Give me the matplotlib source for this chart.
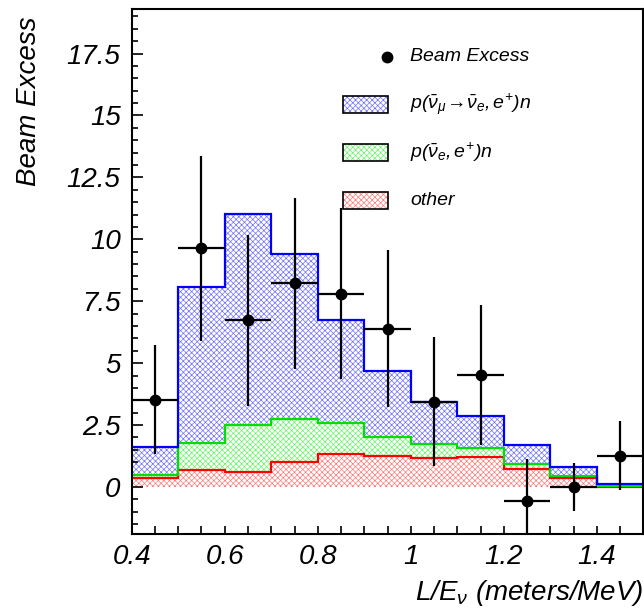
import numpy as np
import matplotlib
matplotlib.use("Agg")
import matplotlib.pyplot as plt
from matplotlib.patches import Rectangle
from matplotlib.lines import Line2D
from matplotlib.ticker import MultipleLocator, FuncFormatter

plt.rcParams['font.family'] = ['Liberation Sans', 'DejaVu Sans']
plt.rcParams['font.style'] = 'italic'
plt.rcParams['mathtext.fontset'] = 'custom'
plt.rcParams['mathtext.it'] = 'Liberation Sans:italic'
plt.rcParams['mathtext.rm'] = 'Liberation Sans'
plt.rcParams['hatch.linewidth'] = 0.5

# bin edges in L/E (meters/MeV)
edges = np.round(np.arange(0.4, 1.51, 0.1), 2)
centers = (edges[:-1] + edges[1:]) / 2

# stacked predictions (cumulative tops)
other = [0.35, 0.67, 0.59, 1.01, 1.32, 1.25, 1.18, 1.22, 0.73, 0.35, 0.01]
nuebar = [0.48, 1.76, 2.52, 2.74, 2.59, 2.00, 1.72, 1.56, 0.91, 0.43, 0.04]   # other + p(nuebar,e+)n
total = [1.60, 8.06, 11.04, 9.39, 6.73, 4.67, 3.42, 2.86, 1.71, 0.82, 0.12]   # + oscillation

# data: beam excess with errors
excess = [3.52, 9.63, 6.73, 8.22, 7.80, 6.38, 3.44, 4.51, -0.55, 0.01, 1.26]
excess_err = [2.2, 3.75, 3.45, 3.46, 3.45, 3.17, 2.6, 2.82, 1.68, 0.97, 1.4]

fig = plt.figure(figsize=(6.44, 6.16), dpi=100)
ax = fig.add_axes([0.2045, 0.1331, 0.7947, 0.8523])

zero = np.zeros(len(other))
HATCH = 'xxxxxx'


def ext(v):
    v = np.asarray(v, dtype=float)
    return np.append(v, v[-1])


layers = [
    (zero, other, '#ff7a7a', '#ff0000'),
    (other, nuebar, '#66f566', '#00e000'),
    (nuebar, total, '#7070ff', '#0000ff'),
]
for low, high, hcol, lcol in layers:
    ax.fill_between(edges, ext(low), ext(high), step='post', facecolor='white',
                    edgecolor=hcol, hatch=HATCH, linewidth=0, zorder=1)
for low, high, hcol, lcol in layers:
    ax.stairs(high, edges, baseline=None, color=lcol, linewidth=1.6, zorder=2)

ax.errorbar(centers, excess, xerr=0.05, yerr=excess_err, fmt='o', color='black',
            ms=7.5, elinewidth=1.6, capsize=0, zorder=5)

ax.set_xlim(0.4, 1.5)
ax.set_ylim(-1.9, 19.3)

fmt = FuncFormatter(lambda v, p: '%g' % round(v, 3))
ax.xaxis.set_major_locator(MultipleLocator(0.2))
ax.xaxis.set_minor_locator(MultipleLocator(0.05))
ax.yaxis.set_major_locator(MultipleLocator(2.5))
ax.yaxis.set_minor_locator(MultipleLocator(0.5))
ax.xaxis.set_major_formatter(fmt)
ax.yaxis.set_major_formatter(fmt)
ax.tick_params(axis='both', which='both', direction='in', width=1.2, labelsize=20)
ax.tick_params(axis='x', which='both', length=6, pad=7)
ax.tick_params(axis='y', which='major', length=8, pad=8)
ax.tick_params(axis='y', which='minor', length=4)
for s in ax.spines.values():
    s.set_linewidth(1.5)

ax.set_xlabel(r'L/E$_{\mathrm{ν}}$ (meters/MeV)', fontsize=20, loc='right', labelpad=6)
ax.set_ylabel('Beam Excess', fontsize=20, loc='top')
ax.yaxis.set_label_coords(-0.175, 0.985)

# legend drawn in axes coordinates
tx = 0.5437
ax.add_line(Line2D([0.499], [0.909], transform=ax.transAxes, marker='o',
                   color='black', ms=7.5, zorder=6))
ax.text(tx, 0.909, 'Beam Excess', transform=ax.transAxes, fontsize=14, va='center')
leg = [
    (0.818, '#7070ff', r'$p(\bar{\mathrm{ν}}_{\mathrm{μ}}\!\rightarrow\!\bar{\mathrm{ν}}_{e}{,}\,e^{+})n$'),
    (0.727, '#66f566', r'$p(\bar{\mathrm{ν}}_{e}{,}\,e^{+})n$'),
    (0.636, '#ff7a7a', 'other'),
]
for yc, hcol, lab in leg:
    ax.add_patch(Rectangle((0.413, yc - 0.0162), 0.088, 0.0324, transform=ax.transAxes,
                           facecolor='white', edgecolor=hcol, hatch=HATCH, linewidth=0,
                           zorder=6))
    ax.add_patch(Rectangle((0.413, yc - 0.0162), 0.088, 0.0324, transform=ax.transAxes,
                           facecolor='none', edgecolor='black', linewidth=1.2, zorder=7))
    ax.text(tx, yc, lab, transform=ax.transAxes, fontsize=14, va='center')

fig.savefig('out.png', dpi=100)
